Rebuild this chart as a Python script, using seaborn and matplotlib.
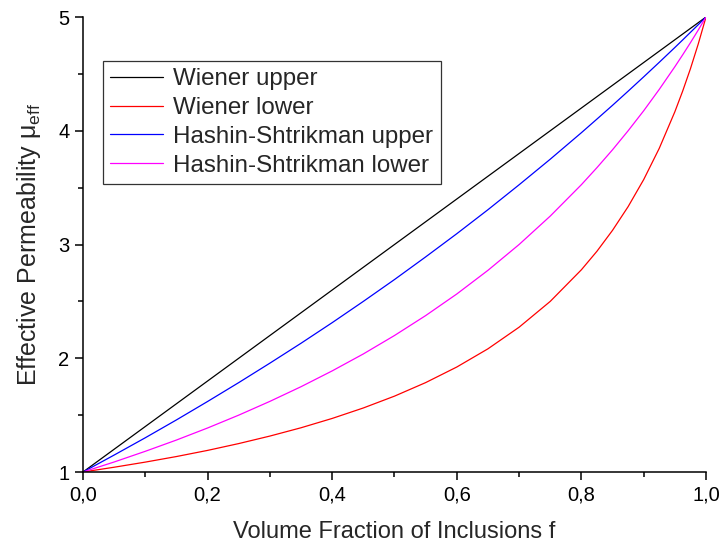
import matplotlib
matplotlib.use("Agg")
import matplotlib.pyplot as plt
from matplotlib.ticker import MultipleLocator, FuncFormatter
import seaborn as sns
import pandas as pd

# Volume fraction of inclusions
f = [0.00, 0.05, 0.10, 0.15, 0.20, 0.25, 0.30, 0.35, 0.40, 0.45, 0.50,
     0.55, 0.60, 0.65, 0.70, 0.75, 0.80, 0.825, 0.85, 0.875, 0.90,
     0.925, 0.95, 0.9625, 0.975, 0.9875, 1.00]

# Effective permeability bounds
wiener_upper = [1.00, 1.20, 1.40, 1.60, 1.80, 2.00, 2.20, 2.40, 2.60, 2.80, 3.00,
                3.20, 3.40, 3.60, 3.80, 4.00, 4.20, 4.30, 4.40, 4.50, 4.60,
                4.70, 4.80, 4.85, 4.90, 4.95, 5.00]
wiener_lower = [1.000, 1.042, 1.087, 1.136, 1.190, 1.250, 1.316, 1.389, 1.471, 1.563, 1.667,
                1.786, 1.923, 2.083, 2.273, 2.500, 2.778, 2.941, 3.125, 3.333, 3.571,
                3.846, 4.167, 4.348, 4.545, 4.762, 5.000]
hs_upper = [1.000, 1.149, 1.301, 1.458, 1.620, 1.786, 1.957, 2.132, 2.313, 2.500, 2.692,
            2.891, 3.095, 3.306, 3.525, 3.750, 3.983, 4.103, 4.224, 4.348, 4.474,
            4.602, 4.732, 4.798, 4.865, 4.932, 5.000]
hs_lower = [1.000, 1.088, 1.182, 1.281, 1.387, 1.500, 1.621, 1.750, 1.889, 2.038, 2.200,
            2.375, 2.565, 2.773, 3.000, 3.250, 3.526, 3.676, 3.833, 4.000, 4.176,
            4.364, 4.563, 4.667, 4.774, 4.885, 5.000]

labels = ["Wiener upper", "Wiener lower", "Hashin-Shtrikman upper", "Hashin-Shtrikman lower"]
colors = ["#000000", "#ff0000", "#0000ff", "#ff00ff"]

frames = []
for name, vals in zip(labels, [wiener_upper, wiener_lower, hs_upper, hs_lower]):
    frames.append(pd.DataFrame({"f": f, "mu": vals, "bound": name}))
df = pd.concat(frames, ignore_index=True)

sns.set_theme(style="ticks")
plt.rcParams["font.family"] = ["Liberation Sans", "DejaVu Sans"]
plt.rcParams["mathtext.fontset"] = "custom"
plt.rcParams["mathtext.rm"] = "Liberation Sans"
plt.rcParams["mathtext.it"] = "Liberation Sans"

fig = plt.figure(figsize=(7.21, 5.47), dpi=100)
ax = fig.add_axes([0.1151, 0.1371, 0.8641, 0.8318])

sns.lineplot(data=df, x="f", y="mu", hue="bound", hue_order=labels,
             palette=dict(zip(labels, colors)), linewidth=0.9, ax=ax, sort=False)

ax.set_xlim(0, 1)
ax.set_ylim(1, 5)
ax.xaxis.set_major_locator(MultipleLocator(0.2))
ax.xaxis.set_minor_locator(MultipleLocator(0.1))
ax.yaxis.set_major_locator(MultipleLocator(1))
ax.yaxis.set_minor_locator(MultipleLocator(0.5))
ax.xaxis.set_major_formatter(FuncFormatter(lambda v, p: f"{v:.1f}".replace(".", ",")))
ax.yaxis.set_major_formatter(FuncFormatter(lambda v, p: f"{v:.0f}"))
ax.tick_params(which="major", direction="out", length=5.8, width=1.1, labelsize=14.5,
               colors="black", pad=4)
ax.tick_params(which="minor", direction="out", length=3.3, width=1.1, colors="black")
for s in ["top", "right"]:
    ax.spines[s].set_visible(False)
for s in ["left", "bottom"]:
    ax.spines[s].set_linewidth(1.1)
    ax.spines[s].set_color("black")

ax.set_xlabel("Volume Fraction of Inclusions f", fontsize=17, labelpad=12)
ax.set_ylabel(r"Effective Permeability μ$_{\mathrm{eff}}$", fontsize=18, labelpad=11)

leg = ax.legend(loc="upper left", bbox_to_anchor=(0.032, 0.903), fontsize=17.4,
                frameon=True, fancybox=False, edgecolor="black", handlelength=2.2,
                borderpad=0.3, labelspacing=0.28, handletextpad=0.42,
                borderaxespad=0)
leg.get_frame().set_linewidth(0.9)
leg.set_title(None)

fig.savefig("out.png", dpi=100)
